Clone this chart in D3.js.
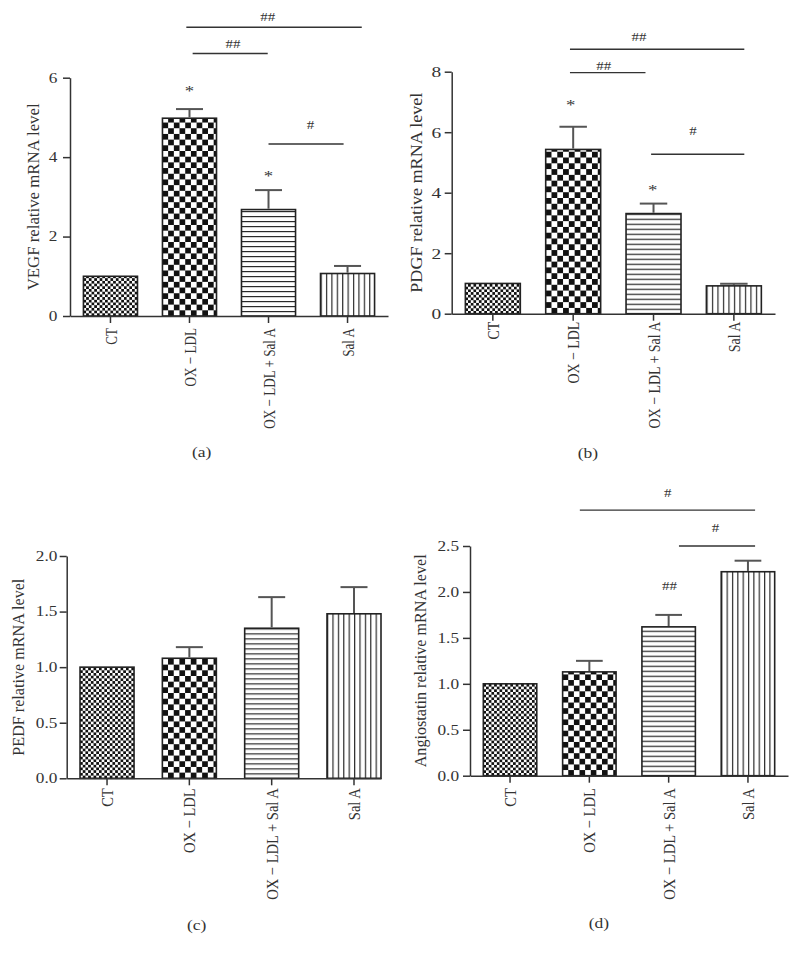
<!DOCTYPE html>
<html>
<head>
<meta charset="utf-8">
<script src="https://d3js.org/d3.v7.min.js"></script>
<style>
  html, body { margin: 0; padding: 0; background: #fff; }
  svg { display: block; }
  text { font-family: 'Liberation Serif', 'Times New Roman', serif; fill: #333; }
</style>
</head>
<body>
<svg id="chart" width="799" height="957"></svg>
<script>
// ---------------- DATA ----------------
const categories = ["CT", "OX \u2212 LDL", "OX \u2212 LDL + Sal A", "Sal A"];

const vegfMean  = [1.00, 4.98, 2.68, 1.07];
const vegfSem   = [0.00, 0.23, 0.49, 0.19];
const vegfTicks = [0, 2, 4, 6];

const pdgfMean  = [1.00, 5.43, 3.31, 0.92];
const pdgfSem   = [0.00, 0.75, 0.33, 0.07];
const pdgfTicks = [0, 2, 4, 6, 8];

const pedfMean  = [1.00, 1.08, 1.35, 1.48];
const pedfSem   = [0.00, 0.10, 0.28, 0.24];
const pedfTicks = [0, 0.5, 1.0, 1.5, 2.0];

const angioMean  = [1.00, 1.13, 1.62, 2.22];
const angioSem   = [0.00, 0.12, 0.13, 0.12];
const angioTicks = [0, 0.5, 1.0, 1.5, 2.0, 2.5];

// significance brackets: [fromIndex, toIndex, value, label, labelIndex, labelValue]
const vegfBrackets = [
  [0.96, 3.18, 7.27, "##", 1.99, 7.54],
  [1.04, 1.99, 6.61, "##", 1.55, 6.86],
  [2.00, 2.95, 4.33, "#",  2.53, 4.81]
];
const pdgfBrackets = [
  [0.96, 3.13, 8.74, "##", 1.82, 9.13],
  [0.96, 1.90, 7.97, "##", 1.38, 8.19],
  [1.97, 3.13, 5.27, "#",  2.49, 6.04]
];
const pedfBrackets = [];
const angioBrackets = [
  [0.88, 3.09, 2.89, "#", 1.99, 3.08],
  [2.13, 3.09, 2.50, "#", 2.59, 2.70]
];

// marks above single bars: [index, value, label]
const vegfMarks  = [[1, 5.74, "*"], [2, 3.60, "*"]];
const pdgfMarks  = [[0.97, 6.98, "*"], [1.99, 4.17, "*"]];
const pedfMarks  = [];
const angioMarks = [[2.01, 2.06, "##"]];

const yTitles = ["VEGF relative mRNA level", "PDGF relative mRNA level",
                 "PEDF relative mRNA level", "Angiostatin relative mRNA level"];
const panelLetters = ["(a)", "(b)", "(c)", "(d)"];

// ---------------- LAYOUT ----------------
const panels = [
  { mean: vegfMean, sem: vegfSem, ticks: vegfTicks, fmt: d3.format("d"), brackets: vegfBrackets, marks: vegfMarks,
    left: 70, right: 388, top: 77.7, bottom: 316, pi: 0.316, po: 0.17, align: 0.5,
    tickFont: 13.8, tickGap: 12.7, titleX: 33, titleLen: 187, xlabSquash: 0.75, xlabGap: 12,
    letterX: 201.7, letterY: 451.7 },
  { mean: pdgfMean, sem: pdgfSem, ticks: pdgfTicks, fmt: d3.format("d"), brackets: pdgfBrackets, marks: pdgfMarks,
    left: 451.7, right: 775, top: 71.7, bottom: 313.7, pi: 0.316, po: 0.17, align: 0.5,
    tickFont: 15.5, tickGap: 10.5, titleX: 416, titleLen: 200, xlabSquash: 0.795, xlabGap: 8,
    letterX: 588, letterY: 453 },
  { mean: pedfMean, sem: pedfSem, ticks: pedfTicks, fmt: d3.format(".1f"), brackets: pedfBrackets, marks: pedfMarks,
    left: 66.7, right: 381, top: 556, bottom: 778.3, pi: 0.344, po: 0.081, align: 1,
    tickFont: 13.8, tickGap: 9.4, titleX: 18, titleLen: 177, xlabSquash: 0.83, xlabGap: 10,
    letterX: 196.7, letterY: 925 },
  { mean: angioMean, sem: angioSem, ticks: angioTicks, fmt: d3.format(".1f"), brackets: angioBrackets, marks: angioMarks,
    left: 470, right: 788, top: 546, bottom: 775.7, pi: 0.326, po: 0.168, align: 0.5,
    tickFont: 13.8, tickGap: 11, titleX: 420, titleLen: 213, xlabSquash: 0.83, xlabGap: 12.5,
    letterX: 599, letterY: 923.3 }
];

const SX = 1.25;          // horizontal stretch of horizontal text (matches the wide serif of the original)
const XLAB_FONT = 17.5;
const TITLE_FONT = 17.5;

const svg = d3.select("#chart");
const defs = svg.append("defs");
const AXIS = "#333";

function makePattern(id, kind, x0, y0, bw) {
  if (kind === 0) { // fine checker
    const s = 2.7;
    const p = defs.append("pattern").attr("id", id).attr("patternUnits", "userSpaceOnUse")
      .attr("x", x0).attr("y", y0).attr("width", 2 * s).attr("height", 2 * s);
    p.append("rect").attr("width", 2 * s).attr("height", 2 * s).attr("fill", "#fff");
    p.append("rect").attr("width", s).attr("height", s).attr("fill", "#111");
    p.append("rect").attr("x", s).attr("y", s).attr("width", s).attr("height", s).attr("fill", "#111");
  } else if (kind === 1) { // big checker
    const s = bw / 9.5;
    const p = defs.append("pattern").attr("id", id).attr("patternUnits", "userSpaceOnUse")
      .attr("x", x0).attr("y", y0).attr("width", 2 * s).attr("height", 2 * s);
    p.append("rect").attr("width", 2 * s).attr("height", 2 * s).attr("fill", "#fff");
    p.append("rect").attr("width", s).attr("height", s).attr("fill", "#111");
    p.append("rect").attr("x", s).attr("y", s).attr("width", s).attr("height", s).attr("fill", "#111");
  } else if (kind === 2) { // horizontal lines
    const s = 5;
    const p = defs.append("pattern").attr("id", id).attr("patternUnits", "userSpaceOnUse")
      .attr("x", x0).attr("y", y0).attr("width", 10).attr("height", s);
    p.append("rect").attr("width", 10).attr("height", s).attr("fill", "#fff");
    p.append("line").attr("x1", 0).attr("x2", 10).attr("y1", 0.6).attr("y2", 0.6)
      .attr("stroke", "#2a2a2a").attr("stroke-width", 1.2);
  } else { // vertical lines
    const s = bw / 10;
    const p = defs.append("pattern").attr("id", id).attr("patternUnits", "userSpaceOnUse")
      .attr("x", x0).attr("y", y0).attr("width", s).attr("height", 10);
    p.append("rect").attr("width", s).attr("height", 10).attr("fill", "#fff");
    p.append("line").attr("x1", 0.6).attr("x2", 0.6).attr("y1", 0).attr("y2", 10)
      .attr("stroke", "#2a2a2a").attr("stroke-width", 1.2);
  }
}

function stretchedText(g, xp, yp, txt, size) {
  return g.append("text")
    .attr("transform", `translate(${xp},${yp}) scale(${SX},1)`)
    .attr("text-anchor", "middle").attr("dominant-baseline", "central")
    .attr("font-size", size).text(txt);
}

panels.forEach((P, pi) => {
  const g = svg.append("g");
  const x = d3.scaleBand().domain(categories).range([P.left, P.right])
    .paddingInner(P.pi).paddingOuter(P.po).align(P.align);
  const y = d3.scaleLinear().domain([0, d3.max(P.ticks)]).range([P.bottom, P.top]);
  const bw = x.bandwidth();
  const cx = i => x(categories[0]) + bw / 2 + i * x.step();

  // bars
  P.mean.forEach((v, i) => {
    makePattern("pat" + pi + "_" + i, i, x(categories[i]), P.bottom, bw);
  });
  g.selectAll("rect.bar").data(P.mean).join("rect").attr("class", "bar")
    .attr("x", (d, i) => x(categories[i]))
    .attr("y", d => y(d))
    .attr("width", bw)
    .attr("height", d => y(0) - y(d))
    .attr("fill", (d, i) => "url(#pat" + pi + "_" + i + ")")
    .attr("stroke", "#222").attr("stroke-width", 1.6);

  // error bars (upper only)
  P.mean.forEach((v, i) => {
    if (P.sem[i] <= 0) return;
    const c = cx(i);
    g.append("line").attr("x1", c).attr("x2", c).attr("y1", y(v) - 0.8).attr("y2", y(v + P.sem[i]))
      .attr("stroke", "#555").attr("stroke-width", 2);
    g.append("line").attr("x1", c - bw / 4).attr("x2", c + bw / 4)
      .attr("y1", y(v + P.sem[i])).attr("y2", y(v + P.sem[i]))
      .attr("stroke", "#555").attr("stroke-width", 2);
  });

  // y axis
  const ya = g.append("g").attr("transform", `translate(${P.left},0)`)
    .call(d3.axisLeft(y).tickValues(P.ticks).tickFormat(P.fmt).tickSize(7).tickPadding(5).tickSizeOuter(0));
  ya.select(".domain").attr("stroke", AXIS).attr("stroke-width", 1.5);
  ya.selectAll(".tick line").attr("stroke", AXIS).attr("stroke-width", 1.5);
  ya.selectAll(".tick text").attr("font-size", P.tickFont).attr("fill", "#333")
    .style("font-family", "'Liberation Serif', 'Times New Roman', serif")
    .attr("transform", `scale(${SX},1)`)
    .attr("x", -P.tickGap / SX);

  // x axis
  const xa = g.append("g").attr("transform", `translate(0,${P.bottom})`)
    .call(d3.axisBottom(x).tickSize(7).tickSizeOuter(0));
  xa.select(".domain").attr("stroke", AXIS).attr("stroke-width", 1.5);
  xa.selectAll(".tick line").attr("stroke", AXIS).attr("stroke-width", 1.5);
  xa.selectAll(".tick text")
    .attr("font-size", XLAB_FONT).attr("fill", "#333")
    .style("font-family", "'Liberation Serif', 'Times New Roman', serif")
    .attr("transform", `rotate(-90) scale(${P.xlabSquash},1)`)
    .attr("text-anchor", "end")
    .attr("x", -P.xlabGap / P.xlabSquash).attr("y", 0).attr("dy", "0.35em");

  // y title
  g.append("text")
    .attr("transform", `translate(${P.titleX},${(P.top + P.bottom) / 2}) rotate(-90)`)
    .attr("text-anchor", "middle").attr("dominant-baseline", "central")
    .attr("font-size", TITLE_FONT)
    .attr("textLength", P.titleLen).attr("lengthAdjust", "spacingAndGlyphs")
    .text(yTitles[pi]);

  // brackets
  P.brackets.forEach(b => {
    g.append("line").attr("x1", cx(b[0])).attr("x2", cx(b[1]))
      .attr("y1", y(b[2])).attr("y2", y(b[2]))
      .attr("stroke", "#333").attr("stroke-width", 1.4);
    stretchedText(g, cx(b[4]), y(b[5]), b[3], 12);
  });
  P.marks.forEach(m => {
    const t = stretchedText(g, cx(m[0]), y(m[1]), m[2], m[2] === "*" ? 15 : 12);
    if (m[2] === "*") t.attr("dy", "0.2em");
  });

  // panel letter
  stretchedText(g, P.letterX, P.letterY, panelLetters[pi], 14);
});
</script>
</body>
</html>
